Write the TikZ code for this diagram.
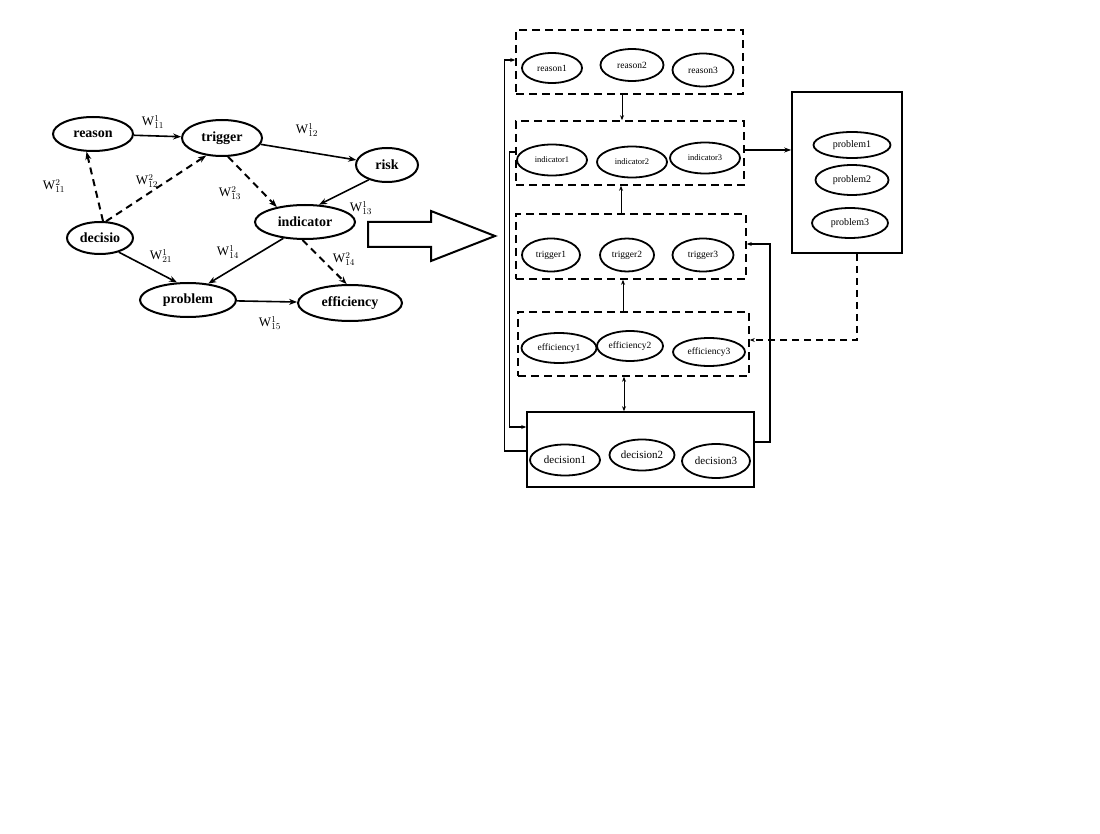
\documentclass[tikz,border=0pt]{standalone}
\usepackage{fontspec}
\setmainfont{Liberation Serif}
\usetikzlibrary{arrows.meta,positioning,shapes.geometric,calc}

\begin{document}
\begin{tikzpicture}[
  x=1pt, y=-1pt,
  gnode/.style={draw, ellipse, line width=2pt, inner sep=0pt, minimum height=34pt, font=\fontsize{14}{16}\selectfont\bfseries},
  snode/.style={draw, ellipse, line width=1.8pt, inner sep=0pt, minimum height=30pt, font=\fontsize{9.5}{11}\selectfont},
  grp/.style={draw, line width=1.6pt, dash pattern=on 8pt off 5pt, inner sep=0pt},
  solidgrp/.style={draw, line width=1.6pt, inner sep=0pt},
  wlbl/.style={font=\fontsize{13}{15}\selectfont, inner sep=0pt},
  arr/.style={-{Stealth[length=8pt,width=6pt]}, line width=1.6pt},
  darr/.style={arr, dash pattern=on 7pt off 5pt, line width=2pt},
  sarr/.style={-{Stealth[length=5pt,width=4pt]}, line width=1pt},
]
  \useasboundingbox (0,0) rectangle (1100,834);

  % Left graph
  \node[gnode, minimum width=80pt] (reason) at (93,134) {reason};
  \node[gnode, minimum width=80pt, minimum height=36pt] (trigger) at (222,138) {trigger};
  \node[gnode, minimum width=62pt] (risk) at (387,165) {risk};
  \node[gnode, minimum width=100pt] (indicator) at (305,222) {indicator};
  \node[gnode, minimum width=66pt, minimum height=32pt] (decisio) at (100,238) {decisio};
  \node[gnode, minimum width=96pt] (problem) at (188,300) {problem};
  \node[gnode, minimum width=104pt, minimum height=36pt] (efficiency) at (350,303) {efficiency};

  \draw[arr] (reason) -- (trigger);
  \draw[arr] (trigger) -- (risk);
  \draw[arr] (risk.219) -- (indicator.51);
  \draw[arr] (indicator.217) -- (problem.39);
  \draw[arr] (decisio.323) -- (problem.122);
  \draw[arr] (problem) -- (efficiency);
  \draw[darr] (decisio.80) -- (reason.250);
  \draw[darr] (decisio.70) -- (trigger.228);
  \draw[darr] (trigger.288) -- (indicator.152);
  \draw[darr] (indicator.262) -- (efficiency.100);

  % Weights
  \node[wlbl] (w111) at (153,122) {W$^{1}_{11}$};
  \node[wlbl] (w112) at (307,130) {W$^{1}_{12}$};
  \node[wlbl] (w113) at (361,208) {W$^{1}_{13}$};
  \node[wlbl] (w211) at (54,186) {W$^{2}_{11}$};
  \node[wlbl] (w212) at (147,181) {W$^{2}_{12}$};
  \node[wlbl] (w213) at (230,193) {W$^{2}_{13}$};
  \node[wlbl] (w114) at (228,252) {W$^{1}_{14}$};
  \node[wlbl] (w214) at (344,259) {W$^{2}_{14}$};
  \node[wlbl] (w121) at (161,256) {W$^{1}_{21}$};
  \node[wlbl] (w115) at (270,323) {W$^{1}_{15}$};

  % Big arrow
  \draw[line width=2pt] (368,222) -- (431,222) -- (431,211) -- (495,236)
    -- (431,261) -- (431,247) -- (368,247) -- cycle;

  % Layer boxes
  \node[grp, minimum width=227pt, minimum height=64pt] (rbox) at (629.5,62) {};
  \node[grp, minimum width=228pt, minimum height=64pt] (ibox) at (630,153) {};
  \node[grp, minimum width=230pt, minimum height=65pt] (tbox) at (631,246.5) {};
  \node[grp, minimum width=231pt, minimum height=64pt] (ebox) at (633.5,344) {};
  \node[solidgrp, minimum width=227pt, minimum height=75pt] (dbox) at (640.5,449.5) {};
  \node[solidgrp, minimum width=110pt, minimum height=161pt] (pbox) at (847,172.5) {};

  % Layer members
  \node[snode, minimum width=60pt] (r1) at (552,68) {reason1};
  \node[snode, minimum width=63pt, minimum height=32pt] (r2) at (632,65) {reason2};
  \node[snode, minimum width=61pt, minimum height=33pt] (r3) at (703,70) {reason3};

  \node[snode, minimum width=70pt, minimum height=31pt, font=\fontsize{8.5}{10}\selectfont] (i1) at (552,160) {indicator1};
  \node[snode, minimum width=70pt, minimum height=31pt, font=\fontsize{8.5}{10}\selectfont] (i2) at (632,162) {indicator2};
  \node[snode, minimum width=70pt, minimum height=31pt, font=\fontsize{8.5}{10}\selectfont] (i3) at (705,158) {indicator3};

  \node[snode, minimum width=58pt, minimum height=33pt] (t1) at (551,255) {trigger1};
  \node[snode, minimum width=54pt, minimum height=33pt] (t2) at (627,255) {trigger2};
  \node[snode, minimum width=61pt, minimum height=33pt] (t3) at (703,255) {trigger3};

  \node[snode, minimum width=75pt] (e1) at (559,348) {efficiency1};
  \node[snode, minimum width=66pt] (e2) at (630,346) {efficiency2};
  \node[snode, minimum width=72pt, minimum height=28pt] (e3) at (709,352) {efficiency3};

  \node[snode, minimum width=70pt, minimum height=31pt, font=\fontsize{11}{13}\selectfont] (d1) at (565,460) {decision1};
  \node[snode, minimum width=65pt, minimum height=31pt, font=\fontsize{11}{13}\selectfont] (d2) at (642,455) {decision2};
  \node[snode, minimum width=68pt, minimum height=34pt, font=\fontsize{11}{13}\selectfont] (d3) at (716,461) {decision3};

  \node[snode, minimum width=77pt, minimum height=26pt, font=\fontsize{10}{12}\selectfont] (p1) at (852,145) {problem1};
  \node[snode, minimum width=73pt, minimum height=30pt, font=\fontsize{10}{12}\selectfont] (p2) at (852,180) {problem2};
  \node[snode, minimum width=76pt, minimum height=30pt, font=\fontsize{10}{12}\selectfont] (p3) at (850,223) {problem3};

  % Layer links
  \draw[sarr] ([xshift=-7.5pt]rbox.south) -- ([xshift=-8pt]ibox.north);
  \draw[sarr] ([xshift=-10pt]tbox.north) -- ([xshift=-9pt]ibox.south);
  \draw[sarr] ([xshift=-10.5pt]ebox.north) -- ([xshift=-8pt]tbox.south);
  \draw[{Stealth[length=5pt,width=4pt]}-{Stealth[length=5pt,width=4pt]}, line width=1pt]
    ([xshift=-16.5pt]dbox.north) -- ([xshift=-9.5pt]ebox.south);
  \draw[-{Stealth[length=7pt,width=5pt]}, line width=2pt] ([yshift=3pt]ibox.east) -- ([yshift=3pt]ibox.east -| pbox.west);
  \draw[sarr, dash pattern=on 7pt off 5pt, line width=1.4pt] ([xshift=10pt]pbox.south) |- ([yshift=4pt]ebox.east);
  \draw[sarr, line width=1.4pt] ([yshift=7.5pt]dbox.east) -- ++(15,0) |- ([yshift=2.5pt]tbox.east);
  \draw[sarr, line width=1.4pt] ([yshift=-1.5pt]dbox.west) -- ++(-22,0) |- ([yshift=2pt]rbox.west);
  \draw[sarr, line width=1.4pt] ([yshift=1pt]ibox.west) -- ++(-6,0) |- ([yshift=22.5pt]dbox.west);
\end{tikzpicture}
\end{document}
